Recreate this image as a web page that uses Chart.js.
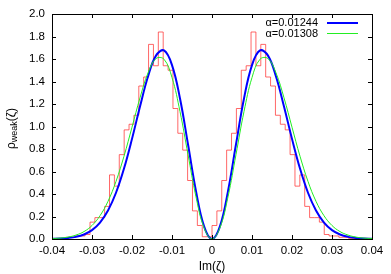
<!DOCTYPE html>
<html>
<head>
<meta charset="utf-8">
<script src="https://cdn.jsdelivr.net/npm/chart.js@4.4.1/dist/chart.umd.min.js"></script>
<style>
  html, body { margin: 0; padding: 0; background: #fff; }
  #wrap { width: 391px; height: 274px; }
</style>
</head>
<body>
<div id="wrap"><canvas id="myChart" width="391" height="274"></canvas></div>
<script>
// histogram bin width and heights, left to right (-0.039 .. 0.039)
const binWidth = 0.00122;
const histCounts = [
    0, 0.005, 0.005, 0.015, 0.015, 0.027, 0.027, 0.04,
    0.15, 0.19, 0.19, 0.29, 0.57, 0.47, 0.75, 0.97,
    1.02, 1.10, 1.36, 1.44, 1.73, 1.54, 1.84, 1.54,
    1.50, 1.16, 0.94, 0.79, 0.52, 0.25, 0.12, 0.02,
    0.02, 0.12, 0.25, 0.52, 0.79, 0.94, 1.16, 1.50,
    1.54, 1.84, 1.54, 1.73, 1.44, 1.36, 1.10, 1.02,
    0.97, 0.75, 0.47, 0.57, 0.29, 0.19, 0.19, 0.15,
    0.04, 0.027, 0.027, 0.015, 0.015, 0.005, 0.005, 0
];

// fitted curves
const curveX = [
    -0.040, -0.038, -0.036, -0.034, -0.032, -0.030, -0.028, -0.026, -0.024, -0.022,
    -0.020, -0.018, -0.016, -0.014, -0.012, -0.010, -0.008, -0.006, -0.004, -0.002,
    0,
    0.002, 0.004, 0.006, 0.008, 0.010, 0.012, 0.014, 0.016, 0.018, 0.020,
    0.022, 0.024, 0.026, 0.028, 0.030, 0.032, 0.034, 0.036, 0.038, 0.040
];
const blueY = [
    0.002, 0.004, 0.009, 0.019, 0.040, 0.079, 0.146, 0.253, 0.411, 0.626,
    0.890, 1.178, 1.445, 1.630, 1.676, 1.546, 1.249, 0.842, 0.426, 0.115,
    0,
    0.115, 0.426, 0.842, 1.249, 1.546, 1.676, 1.630, 1.445, 1.178, 0.890,
    0.626, 0.411, 0.253, 0.146, 0.079, 0.040, 0.019, 0.009, 0.004, 0.002
];
const greenY = [
    0.004, 0.008, 0.017, 0.035, 0.066, 0.120, 0.207, 0.335, 0.512, 0.736,
    0.994, 1.255, 1.476, 1.604, 1.598, 1.435, 1.133, 0.751, 0.375, 0.101,
    0,
    0.101, 0.375, 0.751, 1.133, 1.435, 1.598, 1.604, 1.476, 1.255, 0.994,
    0.736, 0.512, 0.335, 0.207, 0.120, 0.066, 0.035, 0.017, 0.008, 0.004
];
const seriesLabels = ['\u03b1=0.01244', '\u03b1=0.01308'];

const half = histCounts.length / 2;
let histPoints = histCounts.map((v, i) => ({ x: (i - half) * binWidth, y: v }));
histPoints.push({ x: half * binWidth, y: histCounts[histCounts.length - 1] });

const fontFamily = "'Liberation Sans', Arial, sans-serif";

// gnuplot style frame, inward ticks, legend and axis titles
const gnuplotLook = {
    id: 'gnuplotLook',
    afterDraw(chart) {
        const c = chart.ctx;
        const a = chart.chartArea;
        const xs = chart.scales.x, ys = chart.scales.y;
        c.save();
        c.strokeStyle = '#000';
        c.lineWidth = 1;
        c.strokeRect(Math.round(a.left) + 0.5, Math.round(a.top) + 0.5,
            Math.round(a.right - a.left), Math.round(a.bottom - a.top));
        c.beginPath();
        xs.ticks.forEach(t => {
            const px = Math.round(xs.getPixelForValue(t.value)) + 0.5;
            c.moveTo(px, a.bottom); c.lineTo(px, a.bottom - 4);
            c.moveTo(px, a.top); c.lineTo(px, a.top + 4);
        });
        ys.ticks.forEach(t => {
            const py = Math.round(ys.getPixelForValue(t.value)) + 0.5;
            c.moveTo(a.left, py); c.lineTo(a.left + 4, py);
            c.moveTo(a.right, py); c.lineTo(a.right - 4, py);
        });
        c.stroke();

        // legend
        c.font = '11px ' + fontFamily;
        c.textAlign = 'right';
        c.textBaseline = 'middle';
        [1, 2].forEach((di, k) => {
            const ds = chart.data.datasets[di];
            const y = a.top + 9 + k * 10.5;
            c.fillStyle = '#000';
            c.fillText(ds.label, a.right - 54, y);
            c.strokeStyle = ds.borderColor;
            c.lineWidth = ds.borderWidth;
            c.beginPath();
            c.moveTo(a.right - 45, y); c.lineTo(a.right - 14, y);
            c.stroke();
        });

        // x title
        c.fillStyle = '#000';
        c.textAlign = 'center';
        c.textBaseline = 'middle';
        c.font = '12px ' + fontFamily;
        c.fillText('Im(\u03b6)', (a.left + a.right) / 2, 267);

        // y title with subscript
        c.translate(12, (a.top + a.bottom) / 2 + 2);
        c.rotate(-Math.PI / 2);
        const f1 = '12px ' + fontFamily, f2 = '9px ' + fontFamily;
        c.font = f1; const w1 = c.measureText('\u03c1').width;
        c.font = f2; const w2 = c.measureText('weak').width;
        c.font = f1; const w3 = c.measureText('(\u03b6)').width;
        let x0 = -(w1 + w2 + w3) / 2;
        c.textAlign = 'left';
        c.font = f1; c.fillText('\u03c1', x0, 0);
        c.font = f2; c.fillText('weak', x0 + w1, 3);
        c.font = f1; c.fillText('(\u03b6)', x0 + w1 + w2, 0);
        c.restore();
    }
};

let ctx = document.getElementById('myChart').getContext('2d');
let chart = new Chart(ctx, {
    type: 'line',
    data: {
        datasets: [{
            label: 'histogram',
            data: histPoints,
            stepped: 'after',
            borderColor: 'rgba(255, 40, 40, 0.7)',
            borderWidth: 1,
            pointRadius: 0,
            fill: false,
            order: 3
        }, {
            label: seriesLabels[0],
            data: curveX.map((x, i) => ({ x: x, y: blueY[i] })),
            borderColor: '#0000ff',
            borderWidth: 2,
            pointRadius: 0,
            tension: 0.4,
            fill: false,
            order: 2
        }, {
            label: seriesLabels[1],
            data: curveX.map((x, i) => ({ x: x, y: greenY[i] })),
            borderColor: '#22ee22',
            borderWidth: 1,
            pointRadius: 0,
            tension: 0.4,
            fill: false,
            order: 1
        }]
    },
    options: {
        responsive: false,
        animation: false,
        layout: {
            padding: { left: 0, right: 19, top: 14, bottom: 0 }
        },
        plugins: {
            legend: { display: false },
            tooltip: { enabled: false }
        },
        scales: {
            x: {
                type: 'linear',
                min: -0.04,
                max: 0.04,
                grid: { display: false, drawTicks: false },
                border: { display: false },
                afterFit: s => { s.height = 35; },
                ticks: {
                    stepSize: 0.01,
                    padding: 5,
                    color: '#000',
                    font: { family: fontFamily, size: 11.5 },
                    maxRotation: 0,
                    callback: v => Math.abs(v) < 1e-9 ? '0' : v.toFixed(2)
                }
            },
            y: {
                min: 0,
                max: 2.0,
                grid: { display: false, drawTicks: false },
                border: { display: false },
                afterFit: s => { s.width = 52; },
                ticks: {
                    stepSize: 0.2,
                    padding: 7,
                    color: '#000',
                    font: { family: fontFamily, size: 11.5 },
                    callback: v => v.toFixed(1)
                }
            }
        }
    },
    plugins: [gnuplotLook]
});
</script>
</body>
</html>
